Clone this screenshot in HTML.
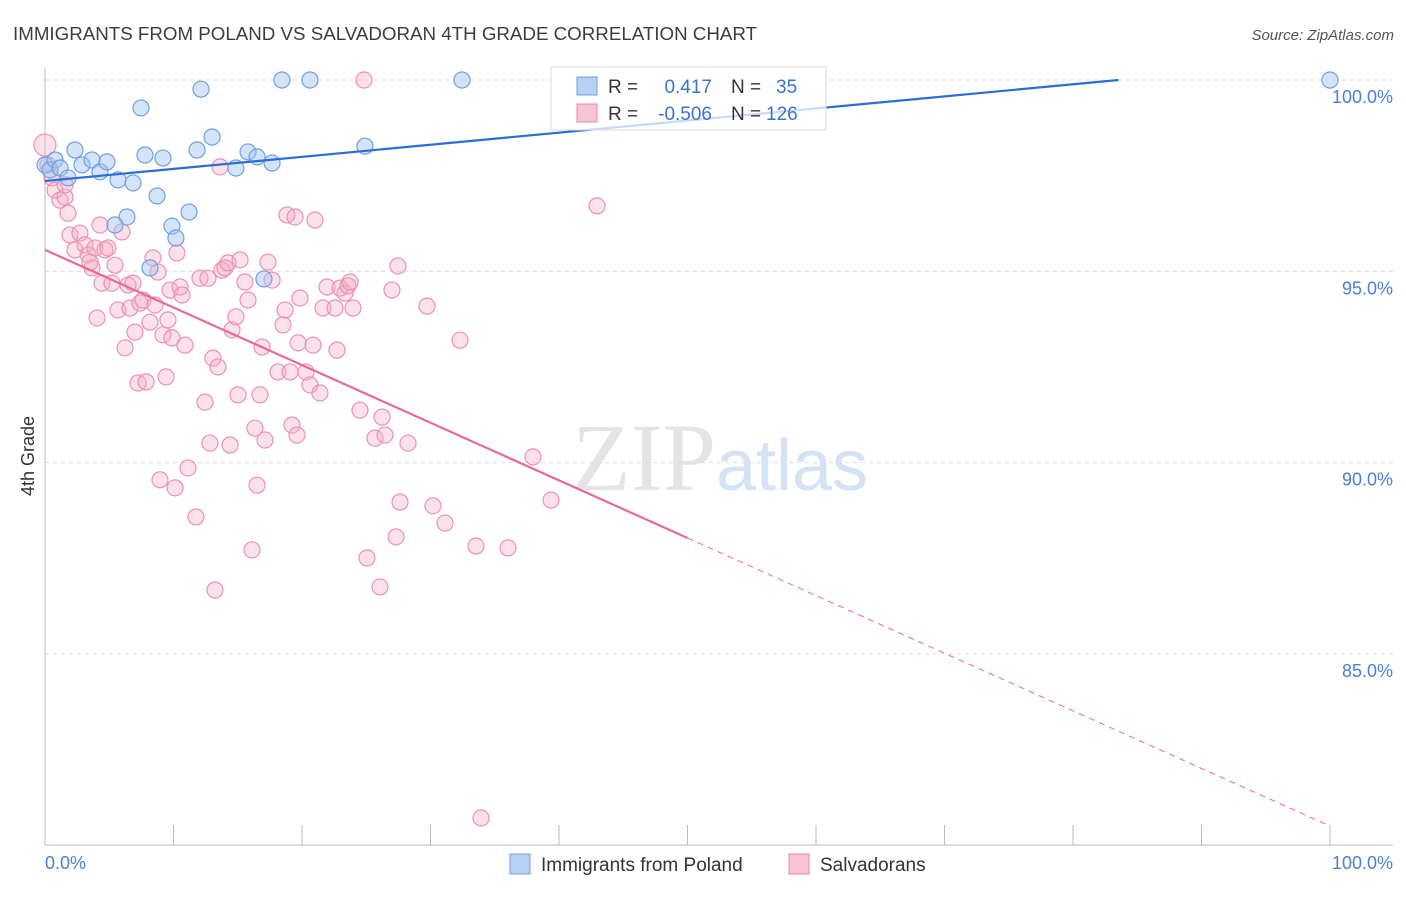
<!DOCTYPE html>
<html><head><meta charset="utf-8"><style>
body{margin:0;background:#fff;font-family:"Liberation Sans",sans-serif;}
svg text{font-family:"Liberation Sans",sans-serif;}
</style></head><body>
<svg id="chart" width="1406" height="892" xmlns="http://www.w3.org/2000/svg">
<text x="13" y="40" font-size="18" fill="#3c3c3c" textLength="744" lengthAdjust="spacingAndGlyphs">IMMIGRANTS FROM POLAND VS SALVADORAN 4TH GRADE CORRELATION CHART</text>
<text x="1394" y="40" font-size="15" fill="#555" text-anchor="end" font-style="italic">Source: ZipAtlas.com</text>
<text x="720" y="490" font-size="96" text-anchor="middle" fill="#e4e4e4"><tspan font-family="Liberation Serif">ZIP</tspan><tspan fill="#d3e2f4" font-size="72">atlas</tspan></text>
<g id="grid"></g>
<g id="axes"></g>
<g id="pts"></g>
<g id="lines"></g>
<text transform="translate(34,456) rotate(-90)" font-size="18" fill="#333" text-anchor="middle">4th Grade</text>
<text x="45" y="869" font-size="18" fill="#4a7fd4">0.0%</text>
<text x="1393" y="869" font-size="18" fill="#4a7fd4" text-anchor="end">100.0%</text>
<g>
<rect x="551" y="67" width="275" height="63" fill="rgba(255,255,255,0.75)" stroke="#ddd"/>
<rect x="577" y="77" width="20" height="18" fill="#b8d0f2" stroke="#6f9fe0"/>
<text x="608" y="93" font-size="19" fill="#333">R = </text><text x="712" y="93" font-size="19" fill="#3a72d0" text-anchor="end">0.417</text>
<text x="731" y="93" font-size="19" fill="#333">N = </text><text x="776" y="93" font-size="19" fill="#3a72d0">35</text>
<rect x="577" y="104" width="20" height="18" fill="#f8c3d3" stroke="#e88aa8"/>
<text x="608" y="120" font-size="19" fill="#333">R = </text><text x="712" y="120" font-size="19" fill="#3a72d0" text-anchor="end">-0.506</text>
<text x="731" y="120" font-size="19" fill="#333">N = </text><text x="766" y="120" font-size="19" fill="#3a72d0">126</text>
</g>
<g><rect x="510" y="854" width="20" height="20" fill="#b8d0f2" stroke="#6f9fe0"/><text x="541" y="871" font-size="19" fill="#333">Immigrants from Poland</text></g>
<g><rect x="789" y="854" width="20" height="20" fill="#f8c3d3" stroke="#e88aa8"/><text x="820" y="871" font-size="19" fill="#333">Salvadorans</text></g>
</svg>
<script>
const yTicks=[100,95,90,85];
const blueX=[0,0.39,0.78,1.17,1.79,2.33,2.88,3.66,4.28,4.82,5.68,6.85,6.38,5.45,7.47,7.78,8.72,9.18,9.88,10.19,8.17,11.21,11.83,12.14,13.0,14.86,15.8,16.5,17.67,17.04,18.44,20.62,24.9,32.45,100];
const blueY=[97.78,97.65,97.91,97.7,97.44,98.17,97.78,97.91,97.6,97.86,97.39,97.31,96.42,96.21,99.27,98.04,96.97,97.96,96.18,95.87,95.09,96.55,98.17,99.76,98.51,97.7,98.12,97.99,97.83,94.8,100,100,98.27,100,100];
const pinkX=[0,.23,.54,.78,1.17,1.56,1.79,1.95,2.33,2.72,3.11,3.35,3.66,3.89,4.28,4.44,4.05,4.67,4.9,5.21,5.45,5.68,5.99,6.23,6.46,6.61,6.85,7.0,7.24,7.39,7.63,7.86,8.17,8.4,8.56,8.79,8.95,9.18,9.42,9.57,9.73,9.88,10.12,10.27,10.51,10.66,10.89,11.13,11.75,12.06,12.45,12.68,12.84,13.07,13.23,13.46,13.62,13.77,14.01,14.24,14.4,14.55,14.86,15.02,15.18,15.56,15.8,16.11,16.34,16.5,16.73,16.89,17.12,17.35,17.67,18.13,18.52,18.68,18.83,19.07,19.22,19.46,19.61,19.69,19.84,20.31,20.62,20.86,21.01,21.4,21.63,21.95,22.57,22.72,22.96,23.35,23.58,23.74,23.97,24.51,24.82,25.06,25.68,26.07,26.23,26.46,27.0,27.32,27.47,27.63,28.25,29.73,30.19,31.13,32.3,33.54,33.93,36.03,37.98,39.38,42.96,1.56,3.5];
const pinkY=[98.3,97.78,97.44,97.12,96.86,96.94,96.52,95.95,95.56,96.0,95.69,95.43,95.09,95.61,96.21,94.69,93.78,95.56,95.61,94.69,95.16,93.99,96.03,93.0,94.64,94.04,94.69,93.41,92.08,94.17,94.25,92.11,93.67,95.35,94.12,94.98,89.55,93.34,92.24,93.73,94.51,93.26,89.34,95.48,94.59,94.38,93.07,89.86,88.58,94.82,91.58,94.82,90.51,92.73,86.67,92.5,97.73,95.03,95.09,95.22,90.46,93.47,93.81,91.77,95.3,94.72,94.25,87.72,90.9,89.41,91.77,93.02,90.59,95.24,94.77,92.37,93.6,93.99,96.47,92.37,90.98,96.42,90.72,93.13,94.3,92.37,92.03,93.07,96.34,91.82,94.04,94.59,94.04,92.94,94.56,94.43,94.62,94.72,94.04,91.37,100,87.51,90.64,86.75,91.19,90.72,94.51,88.06,95.14,88.97,90.51,94.09,88.87,88.42,93.2,87.82,80.71,87.77,90.15,89.02,96.71,97.26,95.24];
const blueLine=[97.36,0.0316];
const pinkLine=[95.56,-0.1506];
const NS="http://www.w3.org/2000/svg";
const X=v=>45+v*12.85, Y=v=>80+(100-v)*38.26;
function mk(t,a,p){const e=document.createElementNS(NS,t);for(const k in a)e.setAttribute(k,a[k]);p.appendChild(e);return e;}
const grid=document.getElementById('grid'),axes=document.getElementById('axes'),pts=document.getElementById('pts'),lines=document.getElementById('lines');
yTicks.forEach(t=>{
 const l=mk('line',{x1:45,x2:1393,y1:Y(t),y2:Y(t),stroke:'#ddd','stroke-dasharray':'4,4'},grid);
 
 
 const tx=mk('text',{x:1393,y:Y(t)+23,'font-size':18,fill:'#4a7fd4','text-anchor':'end'},grid);
 tx.textContent=t.toFixed(1)+'%';
 
 
});
const ax=mk('path',{d:'M45 68V845H1393',stroke:'#bbb',fill:'none'},axes);


for(let i=0;i<=10;i++){const tk=mk('line',{x1:X(i*10),x2:X(i*10),y1:825,y2:845,stroke:'#bbb'},axes);
 
 }
pinkX.forEach((x,i)=>{const c=mk('circle',{cx:X(x),cy:Y(pinkY[i]),r:i==0?11:8,fill:'rgba(245,170,195,0.35)',stroke:'#eb92b0','stroke-width':1.2},pts);
 
 });
blueX.forEach((x,i)=>{const c=mk('circle',{cx:X(x),cy:Y(blueY[i]),r:8,fill:'rgba(160,195,240,0.45)',stroke:'#6f9fe0','stroke-width':1.2},pts);
 
 });
const bx2=(100-blueLine[0])/blueLine[1];
const bl=mk('line',{x1:X(0),y1:Y(blueLine[0]),x2:X(bx2),y2:Y(100),stroke:'#2a6dd4','stroke-width':2.2},lines);


const pl=mk('line',{x1:X(0),y1:Y(pinkLine[0]),x2:X(50),y2:Y(pinkLine[0]+pinkLine[1]*50),stroke:'#e8689a','stroke-width':2.2},lines);


const pd=mk('line',{x1:X(50),y1:Y(pinkLine[0]+pinkLine[1]*50),x2:X(100),y2:Y(pinkLine[0]+pinkLine[1]*100),stroke:'#e8689a','stroke-width':1,'stroke-dasharray':'6,5'},lines);


</script>
</body></html>
